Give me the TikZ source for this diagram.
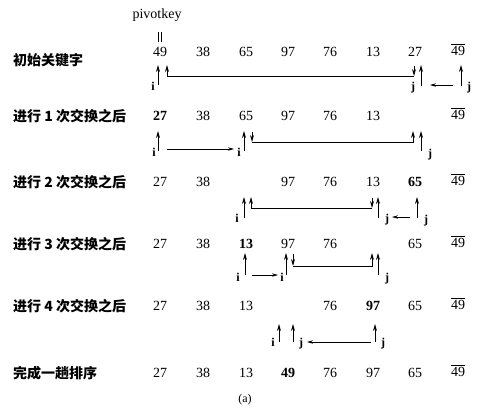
\documentclass[tikz,border=0pt]{standalone}
\usepackage{fontspec}
\setmainfont{Liberation Serif}
\newfontfamily\cjk{Noto Sans CJK SC}
\usetikzlibrary{arrows.meta}
\newcommand\ovnum[1]{\vbox{\hrule height0.7pt\kern1.8pt\hbox{#1}}}
\begin{document}
\begin{tikzpicture}[x=1pt,y=-1pt,
  num/.style={font=\fontsize{14}{14}\selectfont, inner sep=0pt},
  lab/.style={font=\cjk\bfseries\fontsize{14}{14}\selectfont, anchor=west, inner sep=0pt},
  ij/.style={font=\fontsize{12}{12}\selectfont\bfseries, inner sep=0pt},
  ptr/.style={-{Stealth[length=7pt,width=4pt]}, line width=0.9pt},
  mv/.style={-{Stealth[length=6pt,width=3.4pt]}, line width=0.8pt}]
\useasboundingbox (0,0) rectangle (500,408);
% header
\node[font=\fontsize{14}{14}\selectfont, inner sep=0pt] (pk) at (157,15) {pivotkey};
\draw[line width=0.7pt] (158.3,32) coordinate (e1a) -- (158.3,42) coordinate (e1b);
\draw[line width=0.7pt] (161.5,32) coordinate (e2a) -- (161.5,42) coordinate (e2b);
% labels
\node[lab] (l0) at (13,60) {初始关键字};
\node[lab] (l1) at (13,116) {进行 1 次交换之后};
\node[lab] (l2) at (13,182) {进行 2 次交换之后};
\node[lab] (l3) at (13,244) {进行 3 次交换之后};
\node[lab] (l4) at (13,306) {进行 4 次交换之后};
\node[lab] (l5) at (13,373) {完成一趟排序};
% row 0
\node[num] (a1) at (160,52) {49};
\node[num] (a2) at (203,52) {38};
\node[num] (a3) at (246,52) {65};
\node[num] (a4) at (288,52) {97};
\node[num] (a5) at (330,52) {76};
\node[num] (a6) at (373,52) {13};
\node[num] (a7) at (415,52) {27};
\node[num] (a8) at (458,50) {\ovnum{49}};
% row 1
\node[num] (b1) at (160,116) {\bfseries 27};
\node[num] (b2) at (203,116) {38};
\node[num] (b3) at (246,116) {65};
\node[num] (b4) at (288,116) {97};
\node[num] (b5) at (330,116) {76};
\node[num] (b6) at (373,116) {13};
\node[num] (b8) at (458,114) {\ovnum{49}};
% row 2
\node[num] (c1) at (160,182) {27};
\node[num] (c2) at (203,182) {38};
\node[num] (c4) at (288,182) {97};
\node[num] (c5) at (330,182) {76};
\node[num] (c6) at (373,182) {13};
\node[num] (c7) at (415,182) {\bfseries 65};
\node[num] (c8) at (458,180) {\ovnum{49}};
% row 3
\node[num] (d1) at (160,244) {27};
\node[num] (d2) at (203,244) {38};
\node[num] (d3) at (246,244) {\bfseries 13};
\node[num] (d4) at (288,244) {97};
\node[num] (d5) at (330,244) {76};
\node[num] (d7) at (415,244) {65};
\node[num] (d8) at (458,242) {\ovnum{49}};
% row 4
\node[num] (e1) at (160,306) {27};
\node[num] (e2) at (203,306) {38};
\node[num] (e3) at (246,306) {13};
\node[num] (e5) at (330,306) {76};
\node[num] (e6) at (373,306) {\bfseries 97};
\node[num] (e7) at (415,306) {65};
\node[num] (e8) at (458,304) {\ovnum{49}};
% row 5
\node[num] (f1) at (160,373) {27};
\node[num] (f2) at (203,373) {38};
\node[num] (f3) at (246,373) {13};
\node[num] (f4) at (288,373) {\bfseries 49};
\node[num] (f5) at (330,373) {76};
\node[num] (f6) at (373,373) {97};
\node[num] (f7) at (415,373) {65};
\node[num] (f8) at (458,371) {\ovnum{49}};
\node[font=\fontsize{12}{12}\selectfont, inner sep=0pt] (cap) at (245,400) {(a)};

% ---- row 0 pointers
\draw[ptr] (158,85) coordinate (p0a) -- (158,65) coordinate (p0b);
\node[ij] (i0) at (153,86) {i};
\draw[ptr] (414,76) coordinate (q0a) -- (167,76) -- (167,65) coordinate (q0b);
\draw[ptr] (414,66) coordinate (q0c) -- (q0a);
\node[ij] (j0a) at (413,88) {j};
\draw[ptr] (421,86) coordinate (p0c) -- (421,65) coordinate (p0d);
\draw[mv] (453,85) coordinate (m0a) -- (430,85) coordinate (m0b);
\draw[ptr] (461,86) coordinate (p0e) -- (461,65) coordinate (p0f);
\node[ij] (j0b) at (469,88) {j};

% ---- row 1 pointers
\draw[ptr] (158,151) coordinate (p1a) -- (158,131) coordinate (p1b);
\node[ij] (i1a) at (154,152) {i};
\draw[mv] (167,149) coordinate (m1a) -- (234,149) coordinate (m1b);
\node[ij] (i1b) at (239,152) {i};
\draw[ptr] (244,151) coordinate (p1c) -- (244,131) coordinate (p1d);
\draw[ptr] (252,142) coordinate (q1a) -- (413,142) -- (413,131) coordinate (q1b);
\draw[ptr] (252,132) coordinate (q1c) -- (q1a);
\draw[ptr] (421,151) coordinate (p1e) -- (421,131) coordinate (p1f);
\node[ij] (j1) at (430,155) {j};

% ---- row 2 pointers
\draw[ptr] (244,218) coordinate (p2a) -- (244,197) coordinate (p2b);
\node[ij] (i2) at (237,218) {i};
\draw[ptr] (372,208) coordinate (q2a) -- (251,208) -- (251,197) coordinate (q2b);
\draw[ptr] (372,198) coordinate (q2c) -- (q2a);
\draw[ptr] (378,218) coordinate (p2c) -- (378,197) coordinate (p2d);
\node[ij] (j2a) at (387,220) {j};
\draw[mv] (410,217) coordinate (m2a) -- (392,217) coordinate (m2b);
\draw[ptr] (417,218) coordinate (p2e) -- (417,197) coordinate (p2f);
\node[ij] (j2b) at (426,221) {j};

% ---- row 3 pointers
\draw[ptr] (245,275) coordinate (p3a) -- (245,253) coordinate (p3b);
\node[ij] (i3a) at (238,277) {i};
\draw[mv] (252,275) coordinate (m3a) -- (278,275) coordinate (m3b);
\node[ij] (i3b) at (282,277) {i};
\draw[ptr] (286,275) coordinate (p3c) -- (286,253) coordinate (p3d);
\draw[ptr] (293,266) coordinate (q3a) -- (372,266) -- (372,253) coordinate (q3b);
\draw[ptr] (293,254) coordinate (q3c) -- (q3a);
\draw[ptr] (378,275) coordinate (p3e) -- (378,253) coordinate (p3f);
\node[ij] (j3) at (387,279) {j};

% ---- row 4 pointers
\draw[ptr] (279,342) coordinate (p4a) -- (279,324) coordinate (p4b);
\node[ij] (i4) at (273,342) {i};
\draw[ptr] (293,342) coordinate (p4c) -- (293,324) coordinate (p4d);
\node[ij] (j4a) at (301,344) {j};
\draw[mv] (371,342) coordinate (m4a) -- (307,342) coordinate (m4b);
\draw[ptr] (375,342) coordinate (p4e) -- (375,324) coordinate (p4f);
\node[ij] (j4b) at (383,344) {j};
\end{tikzpicture}
\end{document}
